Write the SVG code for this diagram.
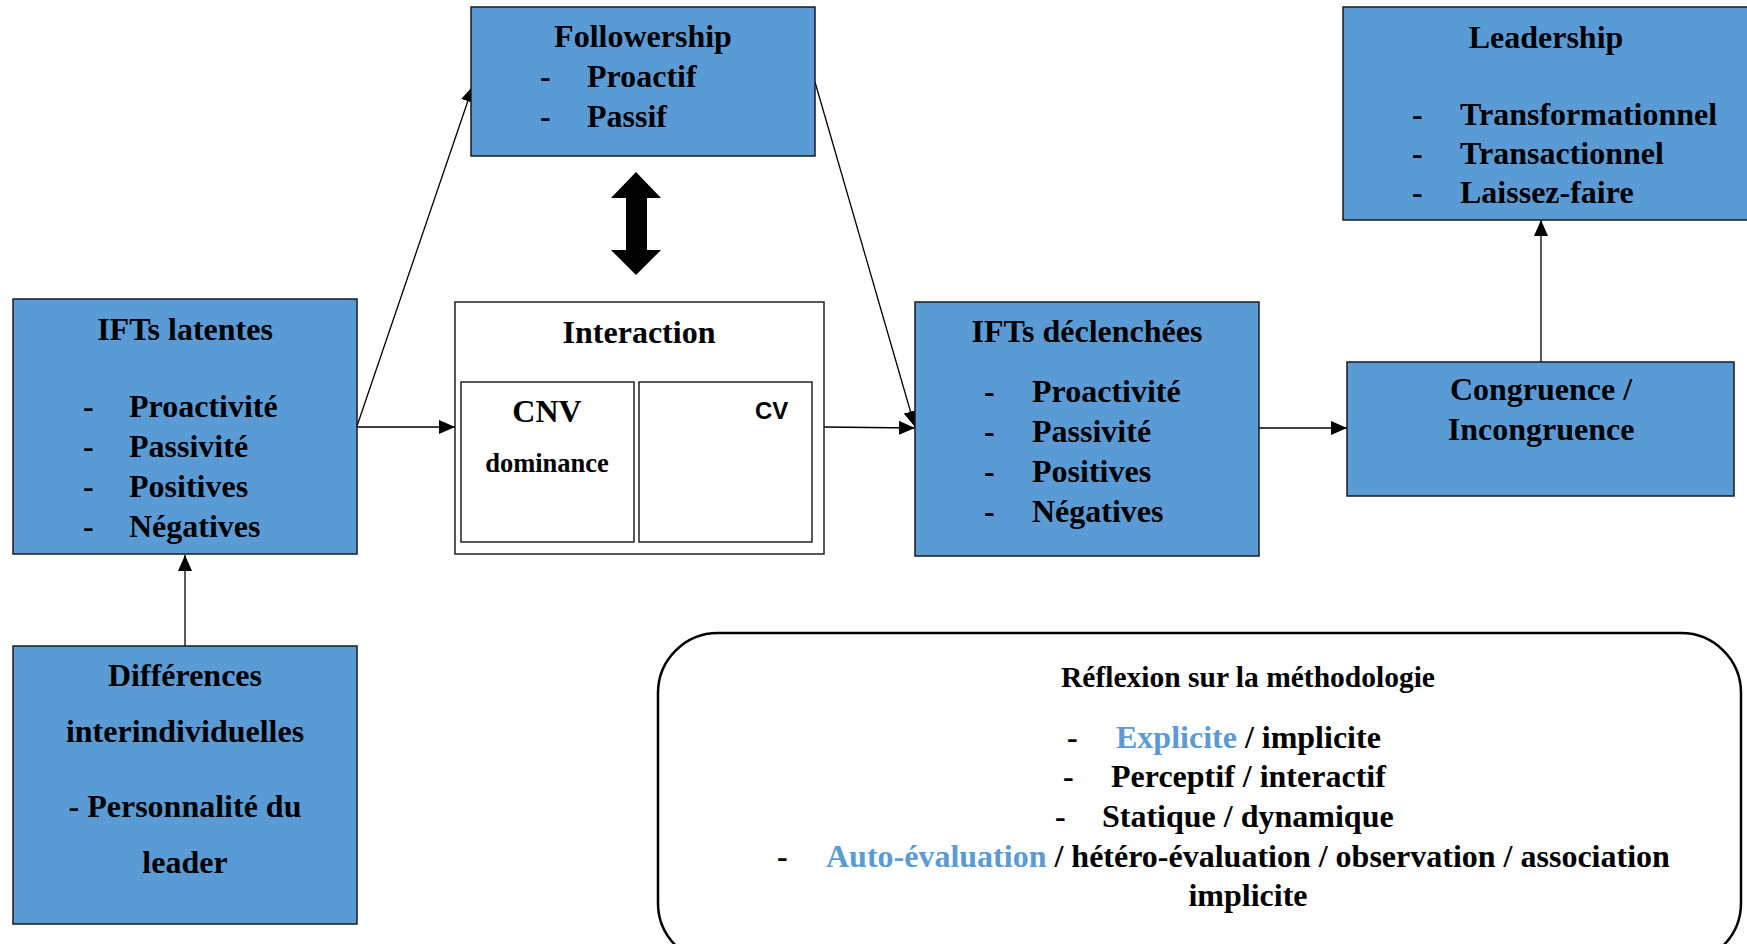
<svg xmlns="http://www.w3.org/2000/svg" width="1747" height="944" viewBox="0 0 1747 944">
<defs>
<style>
.box{fill:#5B9BD5;stroke:#1a1a1a;stroke-width:1.5}
.wbox{fill:#fff;stroke:#222;stroke-width:1.5}
.t{font-family:"Liberation Serif","Times New Roman",serif;font-weight:bold;font-size:32px;fill:#000}
.c{text-anchor:middle}
.s{font-size:26.5px}
.r{font-size:29.5px}
.blue{fill:#5B9BD5}
.sans{font-family:"Liberation Sans",Arial,sans-serif;font-weight:bold;font-size:24px}
.ln{stroke:#000;stroke-width:1.3;fill:none;marker-end:url(#ah)}
</style>
<marker id="ah" markerUnits="userSpaceOnUse" markerWidth="16" markerHeight="14" refX="16" refY="7" orient="auto">
<path d="M0,0 L16,7 L0,14 Z" fill="#000"/>
</marker>
</defs>
<rect width="1747" height="944" fill="#fff"/>

<g id="connectors">
<line class="ln" x1="357" y1="426" x2="473" y2="86"/>
<line class="ln" x1="815" y1="82" x2="915" y2="427"/>
<line class="ln" x1="357" y1="427" x2="455" y2="427"/>
<line class="ln" x1="824" y1="427" x2="915" y2="428"/>
<line class="ln" x1="1259" y1="428" x2="1347" y2="428"/>
<line class="ln" x1="1541" y1="362" x2="1541" y2="220"/>
<line class="ln" x1="185" y1="646" x2="185" y2="555"/>
<polygon points="636,172 661,198 647,198 647,250 661,250 636,275 611,250 626,250 626,198 611,198" fill="#000"/>
</g>

<g id="followership">
<rect class="box" x="471" y="7" width="344" height="149"/>
<text class="t c" x="643" y="47">Followership</text>
<text class="t" x="540" y="87">-</text><text class="t" x="587" y="87">Proactif</text>
<text class="t" x="540" y="127">-</text><text class="t" x="587" y="127">Passif</text>
</g>

<g id="leadership">
<rect class="box" x="1343" y="7" width="410" height="213"/>
<text class="t c" x="1546" y="48">Leadership</text>
<text class="t" x="1412" y="125">-</text><text class="t" x="1460" y="125">Transformationnel</text>
<text class="t" x="1412" y="164">-</text><text class="t" x="1460" y="164">Transactionnel</text>
<text class="t" x="1412" y="203">-</text><text class="t" x="1460" y="203">Laissez-faire</text>
</g>

<g id="ifts-latentes">
<rect class="box" x="13" y="299" width="344" height="255"/>
<text class="t c" x="185" y="340">IFTs latentes</text>
<text class="t" x="83" y="417">-</text><text class="t" x="129" y="417">Proactivité</text>
<text class="t" x="83" y="457">-</text><text class="t" x="129" y="457">Passivité</text>
<text class="t" x="83" y="497">-</text><text class="t" x="129" y="497">Positives</text>
<text class="t" x="83" y="537">-</text><text class="t" x="129" y="537">Négatives</text>
</g>

<g id="interaction">
<rect class="wbox" x="455" y="302" width="369" height="252"/>
<text class="t c" x="639" y="343">Interaction</text>
<rect class="wbox" x="461" y="382" width="173" height="160"/>
<rect class="wbox" x="639" y="382" width="173" height="160"/>
<text class="t c" x="547" y="422">CNV</text>
<text class="t c s" x="547" y="472">dominance</text>
<text class="sans" x="755" y="419">CV</text>
</g>

<g id="ifts-declenchees">
<rect class="box" x="915" y="302" width="344" height="254"/>
<text class="t c" x="1087" y="342">IFTs déclenchées</text>
<text class="t" x="984" y="402">-</text><text class="t" x="1032" y="402">Proactivité</text>
<text class="t" x="984" y="442">-</text><text class="t" x="1032" y="442">Passivité</text>
<text class="t" x="984" y="482">-</text><text class="t" x="1032" y="482">Positives</text>
<text class="t" x="984" y="522">-</text><text class="t" x="1032" y="522">Négatives</text>
</g>

<g id="congruence">
<rect class="box" x="1347" y="362" width="387" height="134"/>
<text class="t c" x="1541" y="400">Congruence /</text>
<text class="t c" x="1541" y="440">Incongruence</text>
</g>

<g id="differences">
<rect class="box" x="13" y="646" width="344" height="278"/>
<text class="t c" x="185" y="686">Différences</text>
<text class="t c" x="185" y="742">interindividuelles</text>
<text class="t c" x="185" y="817">- Personnalité du</text>
<text class="t c" x="185" y="873">leader</text>
</g>

<g id="methodologie">
<rect x="658" y="633" width="1083" height="330" rx="60" ry="60" fill="#fff" stroke="#000" stroke-width="2.5"/>
<text class="t c r" x="1248" y="687">Réflexion sur la méthodologie</text>
<text class="t" x="1067" y="748">-</text><text class="t" x="1116" y="748"><tspan class="blue">Explicite</tspan> / implicite</text>
<text class="t" x="1063" y="787">-</text><text class="t" x="1111" y="787">Perceptif / interactif</text>
<text class="t" x="1055" y="827">-</text><text class="t" x="1102" y="827">Statique / dynamique</text>
<text class="t" x="777" y="867">-</text><text class="t" x="826" y="867"><tspan class="blue">Auto-évaluation</tspan> / hétéro-évaluation / observation / association</text>
<text class="t c" x="1248" y="906">implicite</text>
</g>
</svg>
